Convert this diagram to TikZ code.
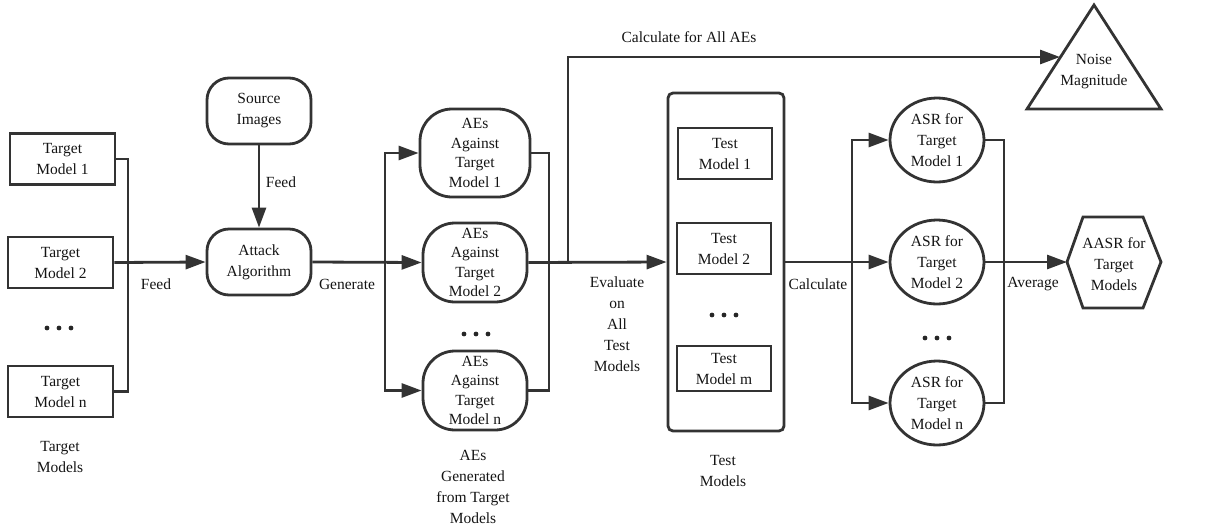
\documentclass[tikz,border=0pt]{standalone}
\usepackage{fontspec}
\setmainfont{Liberation Serif}
\usetikzlibrary{arrows.meta,shapes.geometric}
\begin{document}
\begin{tikzpicture}[x=1pt,y=-1pt,
  every node/.style={font=\fontsize{15.5}{21}\selectfont, text=black!92, align=center, inner sep=0pt},
  ln/.style={draw=black!80, line width=2.8pt},
  arr/.style={ln, -{Triangle[length=20pt,width=14pt]}},
  box/.style={draw=black!80, line width=2.8pt, minimum width=105pt, minimum height=51pt},
  rbox/.style={draw=black!80, line width=2.8pt, rounded corners=22pt, minimum width=104pt, minimum height=66pt},
  aes/.style={draw=black!80, line width=2.8pt, rounded corners=32pt, minimum width=104pt, minimum height=79pt, font=\fontsize{15.5}{19.5}\selectfont},
  asr/.style={draw=black!80, line width=2.8pt, ellipse, minimum width=94pt, minimum height=84pt},
  dotc/.style={fill=black!85}
]
\useasboundingbox (0,0) rectangle (1223,531);

% target models
\node[box] (tm1) at (62.5,159) {Target\\Model 1};
\node[box] (tm2) at (60.5,262.5) {Target\\Model 2};
\node[box] (tmn) at (60.5,391.5) {Target\\Model n};
\foreach \i in {-12,0,12} \fill[dotc] (59+\i,328) circle (2.4);
\node (tml) at (60,457) {Target\\Models};

% source / attack
\node[rbox] (src) at (259,111) {Source\\Images};
\node[rbox] (atk) at (259,262) {Attack\\Algorithm};

% AEs
\node[aes, minimum width=110pt, minimum height=88pt] (ae1) at (475,153) {AEs\\Against\\Target\\Model 1};
\node[aes] (ae2) at (475,262.5) {AEs\\Against\\Target\\Model 2};
\node[aes] (aen) at (475,390.5) {AEs\\Against\\Target\\Model n};
\foreach \i in {-12,0,12} \fill[dotc] (476+\i,334) circle (2.4);
\node (ael) at (473,487) {AEs\\Generated\\from Target\\Models};

% test models
\node[draw=black!80, line width=2.8pt, rounded corners=5pt, minimum width=116pt, minimum height=338pt] (tst) at (726,262) {};
\node[box, minimum width=94pt, minimum height=51pt] (ts1) at (725,153.5) {Test\\Model 1};
\node[box, minimum width=94pt, minimum height=51pt] (ts2) at (724,248.5) {Test\\Model 2};
\node[box, minimum width=94pt, minimum height=45pt] (tsm) at (724,368.5) {Test\\Model m};
\foreach \i in {-12,0,12} \fill[dotc] (724+\i,315) circle (2.4);
\node (tsl) at (723,471) {Test\\Models};
\node (lev) at (617,324.5) {Evaluate\\on\\All\\Test\\Models};

% ASR
\node[asr] (as1) at (937,140) {ASR for\\Target\\Model 1};
\node[asr] (as2) at (937,262) {ASR for\\Target\\Model 2};
\node[asr] (asn) at (937,403) {ASR for\\Target\\Model n};
\foreach \i in {-12,0,12} \fill[dotc] (937+\i,338) circle (2.4);

% hexagon
\draw[ln] (1067,262) -- (1083,217) -- (1143,217) -- (1161,262) -- (1143,308) -- (1083,308) -- cycle;
\node (hex) at (1114,264) {AASR for\\Target\\Models};
\coordinate (hexL) at (1067,262);

% triangle
\draw[ln] (1094,5) -- (1161,109) -- (1027,109) -- cycle;
\node (noise) at (1094,72) {Noise\\Magnitude};
\coordinate (noiseL) at (1060,57);

% connectors
\coordinate (b1) at (128,262);
\draw[ln] (tm1.east) -| (b1) |- (tmn.east);
\draw[arr] (tm2.east) -- (atk.west);
\draw[arr] (src.south) -- (atk.north);
\draw[arr] (atk.east) -- (ae2.west);
\coordinate (b2) at (385,262);
\draw[arr] (b2) |- (ae1.west);
\draw[arr] (b2) |- (aen.west);
\coordinate (b3) at (549,262);
\draw[ln] (ae1.east) -| (b3) |- (aen.east);
\draw[arr] (ae2.east) -- (tst.west);
\coordinate (b4) at (568,262);
\draw[arr] (b4) |- (noiseL);
\draw[arr] (tst.east) -- (as2.west);
\coordinate (b5) at (852,262);
\draw[arr] (b5) |- (as1.west);
\draw[arr] (b5) |- (asn.west);
\coordinate (b6) at (1004,262);
\draw[ln] (as1.east) -| (b6) |- (asn.east);
\draw[arr] (as2.east) -- (hexL);

% labels
\node (lfeed1) at (156,284) {Feed};
\node (lfeed2) at (281,182) {Feed};
\node (lgen) at (347,284) {Generate};
\node (lcalc) at (818,284) {Calculate};
\node (lavg) at (1033,284) {Average};
\node (lall) at (689,37) {Calculate for All AEs};
\end{tikzpicture}
\end{document}
